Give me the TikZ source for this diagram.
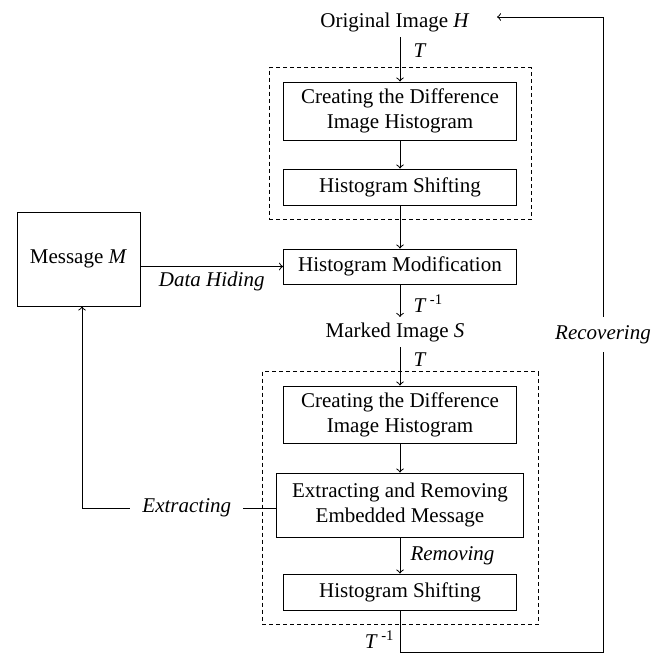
\documentclass[tikz,border=0pt]{standalone}
\usepackage{fontspec}
\setmainfont{Liberation Serif}
\usepackage{tikz}
\usetikzlibrary{shapes,arrows,positioning,fit}

\begin{document}
\begin{tikzpicture}[
    x=0.5pt, y=-0.5pt,
    font=\fontsize{10.5}{12.6}\selectfont,
    line width=0.5pt,
    >=to,
    box/.style={rectangle, draw, minimum width=116.5pt, minimum height=18pt, align=center, inner sep=2pt},
    txt/.style={inner sep=2.5pt},
    dashbox/.style={draw, dash pattern=on 2pt off 1.5pt, inner sep=7pt},
]
    \useasboundingbox (0,0) rectangle (658,653);

    \node[txt, anchor=base] (orig) at (395,27) {Original Image \textit{H}};
    \node[box, minimum height=29pt] (create1) at (400,111) {Creating the Difference\\Image Histogram};
    \node[box] (shift1) at (400,187) {Histogram Shifting};
    \node[box, minimum height=17.5pt] (modify) at (400,266.5) {Histogram Modification};
    \node[box, minimum width=61.5pt, minimum height=47pt] (msg) at (78.5,259) {Message \textit{M}};
    \node[txt, anchor=base] (marked) at (395,337) {Marked Image \textit{S}};
    \node[box, minimum height=28.5pt] (create2) at (400,414.5) {Creating the Difference\\Image Histogram};
    \node[box, minimum width=123.5pt, minimum height=32pt] (extract) at (400,505) {Extracting and Removing\\Embedded Message};
    \node[box] (shift2) at (400,592) {Histogram Shifting};

    \node[dashbox, fit=(create1)(shift1)] (embed) {};
    \node[dashbox, fit=(create2)(extract)(shift2)] (recover) {};

    \coordinate (corner) at (603,652);
    \coordinate (back) at (603,17);
    \coordinate (turn) at (82,508);

    \draw[->] (orig.south -| create1) -- node[txt, right, pos=.3, xshift=4pt] {\textit{T}} (create1);
    \draw[->] (create1) -- (shift1);
    \draw[->] (shift1) -- (modify);
    \draw[->] (msg.east |- modify) -- node[txt, below] {\textit{Data Hiding}} (modify);
    \draw[->] (modify) -- node[txt, right, pos=.6, xshift=4pt] {\textit{T}\,\textsuperscript{-1}} (marked.north -| modify);
    \draw[->] (marked.south -| create2) -- node[txt, right, pos=.33, xshift=4pt] {\textit{T}} (create2);
    \draw[->] (create2) -- (extract);
    \draw[->] (extract) -- node[txt, right, xshift=2.5pt] {\textit{Removing}} (shift2);
    \draw[->] (extract.west |- turn) -- node[fill=white, inner xsep=6pt, pos=.46] {\textit{Extracting}} (turn) -- (msg.south -| turn);
    \draw[->, shorten >=11pt] (shift2) |- node[txt, left, pos=.35] {\textit{T}\,\textsuperscript{-1}} (corner)
        -- node[fill=white, inner sep=4pt] {\textit{Recovering}} (back) -- (back -| orig.east);
\end{tikzpicture}
\end{document}
